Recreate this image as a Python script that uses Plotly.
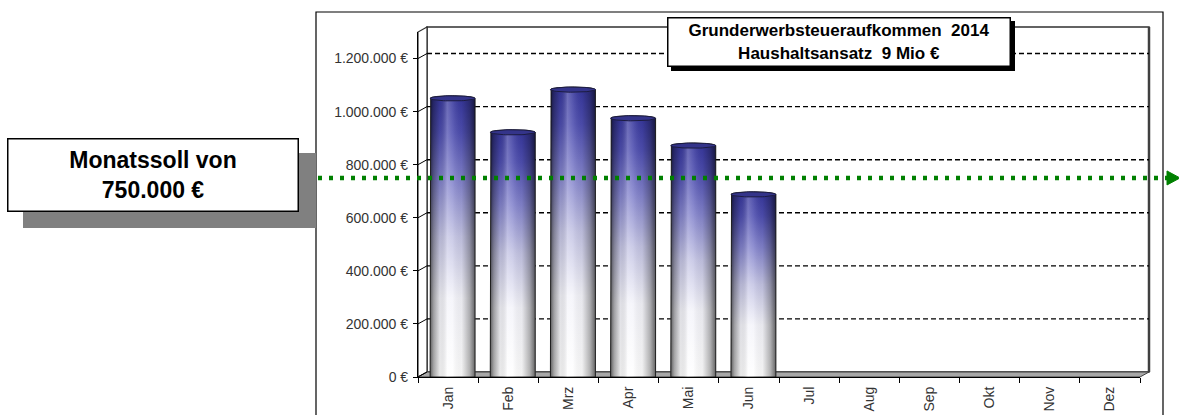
import math
import plotly.graph_objects as go

# ---------------- data ----------------
MONTHS = ["Jan", "Feb", "Mrz", "Apr", "Mai", "Jun", "Jul", "Aug", "Sep", "Okt", "Nov", "Dez"]
VALUES = [1050000, 922000, 1083000, 975000, 872000, 688000]  # Jan..Jun (rest empty)
Y_TICKS = [0, 200000, 400000, 600000, 800000, 1000000, 1200000]
Y_TICK_LABELS = ["0 €", "200.000 €", "400.000 €", "600.000 €", "800.000 €", "1.000.000 €", "1.200.000 €"]
MONATSSOLL = 750000
MONATSSOLL_TEXT = ["Monatssoll von", "750.000 €"]
TITLE_LINES = ["Grunderwerbsteueraufkommen  2014", "Haushaltsansatz  9 Mio €"]
YMAX = 1300000

# ---------------- geometry (pixels) ----------------
FIG_W, FIG_H = 1179, 415
L, R, T, B = 418, 1140, 32, 377
W, H = R - L, B - T
DX, DY = 9, 5  # 3D depth offset of back wall
CAT_PX = W / len(MONTHS)

def PX(x):
    return (x - L) / W

def PY(y):
    return (B - y) / H

FONT = "Arial, Liberation Sans, sans-serif"

fig = go.Figure()

# ---------------- cylinders ----------------
HW = 0.374          # half width in category units
SHIFT = 4.5 / CAT_PX
RY = 2.6 / H * YMAX
N = 40

vert_scale = [[0, "#ffffff"], [0.28, "#f4f4fa"], [0.5, "#c4c4e4"], [0.7, "#8282cc"],
              [0.87, "#4e4eb0"], [1, "#36369c"]]
horiz_scale = [[0, "rgba(0,0,0,0.62)"], [0.08, "rgba(0,0,0,0.35)"], [0.22, "rgba(0,0,0,0.08)"],
               [0.38, "rgba(255,255,255,0.25)"], [0.5, "rgba(255,255,255,0.12)"],
               [0.7, "rgba(0,0,0,0.05)"], [0.88, "rgba(0,0,0,0.3)"], [1, "rgba(0,0,0,0.6)"]]

for i, v in enumerate(VALUES):
    c = i + SHIFT
    xs = [c - HW, c - HW]
    ys = [0, v]
    for k in range(N + 1):
        t = math.pi - math.pi * k / N
        xs.append(c + HW * math.cos(t))
        ys.append(v + RY * math.sin(t))
    xs += [c + HW, c + HW, c - HW]
    ys += [v, 0, 0]
    fig.add_trace(go.Scatter(x=xs, y=ys, mode="lines", fill="toself",
                             fillgradient=dict(type="vertical", colorscale=vert_scale),
                             line=dict(color="#2a2a2a", width=1), hoverinfo="skip"))
    fig.add_trace(go.Scatter(x=xs, y=ys, mode="lines", fill="toself",
                             fillgradient=dict(type="horizontal", colorscale=horiz_scale),
                             line=dict(width=0), hoverinfo="skip"))
    ex = [c + HW * math.cos(2 * math.pi * k / 60) for k in range(61)]
    ey = [v + RY * math.sin(2 * math.pi * k / 60) for k in range(61)]
    fig.add_trace(go.Scatter(x=ex, y=ey, mode="lines", fill="toself", fillcolor="#34348a",
                             line=dict(color="#1c1c40", width=1), hoverinfo="skip"))

shapes = []
# outer chart border
shapes.append(dict(type="rect", xref="paper", yref="paper", x0=PX(316), x1=PX(1163), y0=PY(12), y1=PY(440),
                   line=dict(color="#000000", width=1.2), fillcolor="rgba(0,0,0,0)", layer="below"))
# back wall
shapes.append(dict(type="rect", xref="paper", yref="paper", x0=PX(L + DX), x1=PX(R + DX), y0=PY(B - DY), y1=PY(T - DY),
                   line=dict(color="#303030", width=1.5), fillcolor="#ffffff", layer="below"))
shapes.append(dict(type="line", xref="paper", yref="paper", x0=PX(R + DX), x1=PX(R + DX), y0=PY(B - DY), y1=PY(T - DY),
                   line=dict(color="#404040", width=2.5), layer="below"))
# left wall
shapes.append(dict(type="path", xref="paper", yref="paper",
                   path=f"M {PX(L)},{PY(B)} L {PX(L)},{PY(T)} L {PX(L+DX)},{PY(T-DY)} L {PX(L+DX)},{PY(B-DY)} Z",
                   line=dict(color="#303030", width=1.2), fillcolor="#ffffff", layer="below"))
# floor
shapes.append(dict(type="path", xref="paper", yref="paper",
                   path=f"M {PX(L)},{PY(B)} L {PX(R)},{PY(B)} L {PX(R+DX)},{PY(B-DY)} L {PX(L+DX)},{PY(B-DY)} Z",
                   line=dict(color="#404040", width=1), fillcolor="#a8a8a8", layer="below"))
# gridlines on back wall + connectors on left wall
for v in Y_TICKS[1:]:
    shapes.append(dict(type="line", xref="paper", yref="y", ysizemode="pixel", yanchor=v,
                       x0=PX(L + DX), x1=PX(R + DX), y0=DY, y1=DY,
                       line=dict(color="#000000", width=1.4, dash="5px,3px"), layer="below"))
for v in Y_TICKS:
    shapes.append(dict(type="line", xref="paper", yref="y", ysizemode="pixel", yanchor=v,
                       x0=PX(L), x1=PX(L + DX), y0=0, y1=DY,
                       line=dict(color="#000000", width=1), layer="below"))

# Monatssoll dotted line with arrow
ys = MONATSSOLL / YMAX
shapes.append(dict(type="line", xref="paper", yref="paper", x0=PX(318), x1=PX(1168), y0=ys, y1=ys,
                   line=dict(color="#008000", width=4.5, dash="4px,7px"), layer="above"))
shapes.append(dict(type="path", xref="paper", yref="paper", layer="above",
                   path=f"M {PX(1167)},{ys + 7/H} L {PX(1180)},{ys} L {PX(1167)},{ys - 7/H} Z",
                   fillcolor="#008000", line=dict(color="#008000", width=1)))

# shadows of the text boxes
shapes.append(dict(type="rect", xref="paper", yref="paper", x0=PX(23), x1=PX(316), y0=PY(153), y1=PY(228),
                   fillcolor="#808080", line=dict(width=0), layer="above"))
shapes.append(dict(type="rect", xref="paper", yref="paper", x0=PX(671), x1=PX(1015), y0=PY(21), y1=PY(71),
                   fillcolor="#000000", line=dict(width=0), layer="above"))

annotations = [
    dict(xref="paper", yref="paper", x=PX(153), y=PY(175), xanchor="center", yanchor="middle",
         text="<br>".join(f"<b>{t}</b>" for t in MONATSSOLL_TEXT), showarrow=False,
         font=dict(family=FONT, size=23, color="#000000"), bgcolor="#ffffff",
         bordercolor="#000000", borderwidth=1.5, borderpad=0, width=289, height=71, align="center"),
    dict(xref="paper", yref="paper", x=PX(839), y=PY(42), xanchor="center", yanchor="middle",
         text="<br>".join(f"<b>{t}</b>" for t in TITLE_LINES), showarrow=False,
         font=dict(family=FONT, size=17, color="#000000"), bgcolor="#ffffff",
         bordercolor="#000000", borderwidth=1.5, borderpad=0, width=341, height=47, align="center"),
]

fig.update_layout(
    width=FIG_W, height=FIG_H,
    margin=dict(l=L, r=FIG_W - R, t=T, b=FIG_H - B, pad=0, autoexpand=False),
    paper_bgcolor="#ffffff", plot_bgcolor="rgba(0,0,0,0)",
    showlegend=False, shapes=shapes, annotations=annotations,
    font=dict(family=FONT, color="#333333"),
    xaxis=dict(range=[-0.5, len(MONTHS) - 0.5], tickmode="array", tickvals=list(range(len(MONTHS))),
               ticktext=MONTHS, tickangle=-90, ticks="", showgrid=False, zeroline=False,
               showline=True, linecolor="#000000", linewidth=1.2, ticklabelstandoff=3,
               automargin=False,
               tickfont=dict(family=FONT, size=14, color="#333333"),
               minor=dict(tickmode="array", tickvals=[i - 0.5 for i in range(len(MONTHS) + 1)],
                          ticks="outside", ticklen=5, tickcolor="#000000", showgrid=False),
               fixedrange=True),
    yaxis=dict(range=[0, YMAX], tickmode="array", tickvals=Y_TICKS, ticktext=Y_TICK_LABELS,
               ticks="outside", ticklen=4, tickcolor="#000000", showgrid=False, zeroline=False,
               showline=True, linecolor="#000000", linewidth=1.2, ticklabelstandoff=2,
               automargin=False,
               tickfont=dict(family=FONT, size=14, color="#333333"), fixedrange=True),
)

fig.write_html("out.html")
